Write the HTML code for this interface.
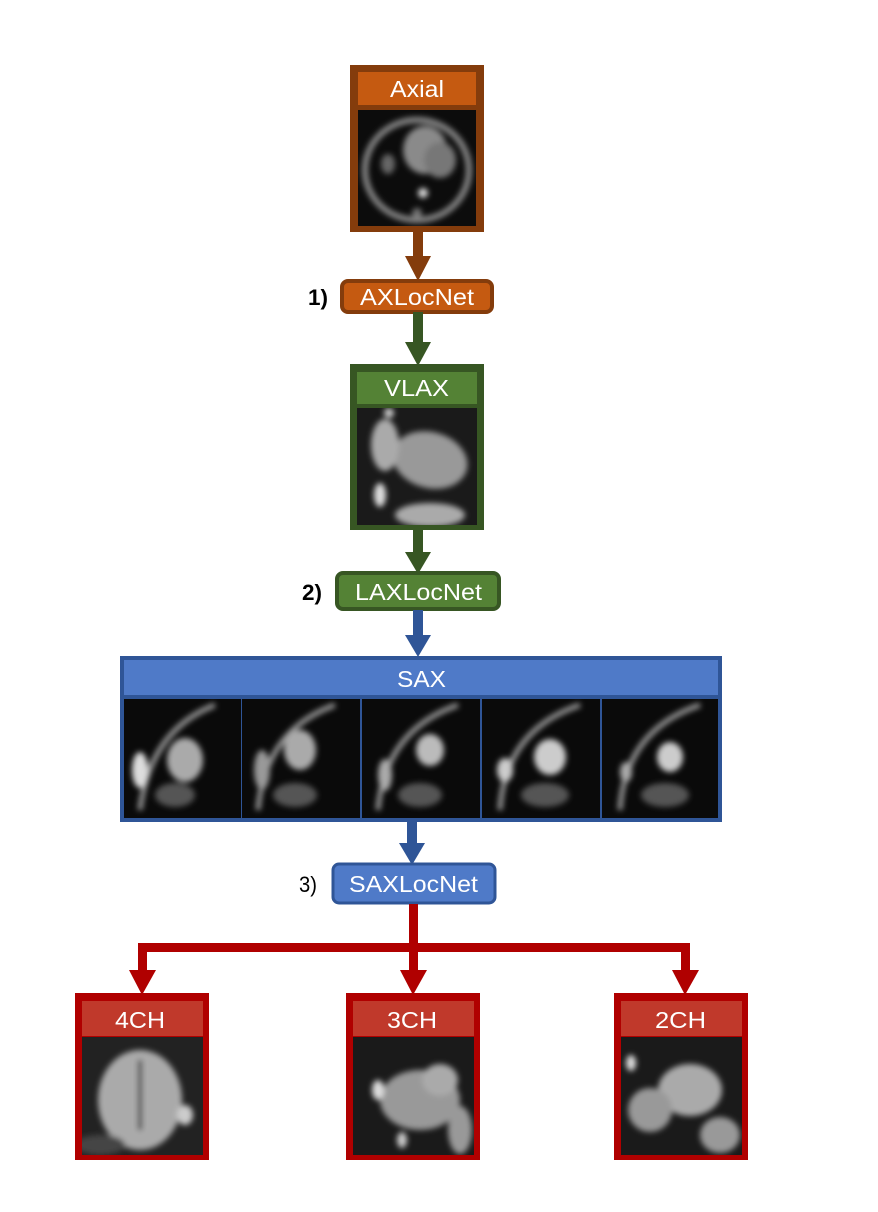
<!DOCTYPE html>
<html><head><meta charset="utf-8"><style>
html,body{margin:0;padding:0;background:#fff;}
svg{display:block;font-family:"Liberation Sans",Arial,sans-serif;}
</style></head><body>
<svg width="878" height="1212" viewBox="0 0 878 1212" xmlns="http://www.w3.org/2000/svg">
<defs>
<filter id="bl" x="-20%" y="-20%" width="140%" height="140%"><feGaussianBlur stdDeviation="3"/></filter>
<clipPath id="c1"><rect x="358" y="110" width="118" height="116"/></clipPath>
<clipPath id="c2"><rect x="357" y="408" width="120" height="117"/></clipPath>
<clipPath id="c3"><rect x="124" y="699" width="594" height="119"/></clipPath>
<clipPath id="c4"><rect x="82" y="1037" width="121" height="118"/></clipPath>
<clipPath id="c5"><rect x="353" y="1037" width="121" height="118"/></clipPath>
<clipPath id="c6"><rect x="621" y="1037" width="121" height="118"/></clipPath>
</defs>
<rect width="878" height="1212" fill="#fff"/>

<!-- Axial -->
<rect x="352.5" y="67.5" width="129" height="162" fill="#843c0c" stroke="#843c0c" stroke-width="5"/>
<rect x="358" y="72" width="118" height="33" fill="#c55a11"/>
<text x="390" y="97" font-size="23" fill="#fff" textLength="54" lengthAdjust="spacingAndGlyphs">Axial</text>
<rect x="358" y="110" width="118" height="116" fill="#0c0c0c"/>
<g filter="url(#bl)" clip-path="url(#c1)">
<ellipse cx="417" cy="170" rx="52" ry="50" fill="none" stroke="#888" stroke-width="6"/>
<ellipse cx="425" cy="150" rx="22" ry="24" fill="#8a8a8a"/>
<ellipse cx="440" cy="160" rx="16" ry="18" fill="#777"/>
<ellipse cx="388" cy="164" rx="7" ry="10" fill="#666"/>
<circle cx="423" cy="193" r="5" fill="#ddd"/>
<circle cx="417" cy="213" r="5" fill="#777"/>
</g>

<rect x="413" y="230" width="10" height="30" fill="#843c0c"/>
<polygon points="405,256 431,256 418,281" fill="#843c0c"/>

<!-- AXLocNet -->
<rect x="342" y="281" width="150" height="31" rx="6" fill="#c55a11" stroke="#843c0c" stroke-width="4"/>
<text x="360" y="305" font-size="23" fill="#fff" textLength="114" lengthAdjust="spacingAndGlyphs">AXLocNet</text>
<text x="308" y="305" font-size="22" font-weight="bold" fill="#000" textLength="20" lengthAdjust="spacingAndGlyphs">1)</text>

<rect x="413" y="312" width="10" height="32" fill="#375623"/>
<polygon points="405,342 431,342 418,366" fill="#375623"/>

<!-- VLAX -->
<rect x="352.5" y="366.5" width="129" height="161" fill="#375623" stroke="#375623" stroke-width="5"/>
<rect x="357" y="372" width="120" height="32" fill="#548235"/>
<text x="384" y="396" font-size="23" fill="#fff" textLength="65" lengthAdjust="spacingAndGlyphs">VLAX</text>
<rect x="357" y="408" width="120" height="117" fill="#1a1a1a"/>
<g filter="url(#bl)" clip-path="url(#c2)">
<ellipse cx="430" cy="460" rx="38" ry="28" fill="#999" transform="rotate(15 430 460)"/>
<ellipse cx="385" cy="445" rx="14" ry="26" fill="#aaa"/>
<ellipse cx="380" cy="495" rx="6" ry="12" fill="#ddd"/>
<ellipse cx="430" cy="515" rx="35" ry="12" fill="#aaa"/>
<circle cx="389" cy="413" r="5" fill="#ccc"/>
</g>

<rect x="413" y="528" width="10" height="27" fill="#375623"/>
<polygon points="405,552 431,552 418,574" fill="#375623"/>

<!-- LAXLocNet -->
<rect x="337" y="573" width="162" height="36" rx="6" fill="#548235" stroke="#375623" stroke-width="4"/>
<text x="355" y="600" font-size="23" fill="#fff" textLength="127" lengthAdjust="spacingAndGlyphs">LAXLocNet</text>
<text x="302" y="600" font-size="22" font-weight="bold" fill="#000" textLength="20" lengthAdjust="spacingAndGlyphs">2)</text>

<rect x="413" y="610" width="10" height="28" fill="#2f5597"/>
<polygon points="405,635 431,635 418,657" fill="#2f5597"/>

<!-- SAX -->
<rect x="121.5" y="657.5" width="599" height="163" fill="#2f5597" stroke="#2f5597" stroke-width="3"/>
<rect x="124" y="660" width="594" height="35" fill="#4f7ac8"/>
<text x="397" y="687" font-size="23" fill="#fff" textLength="49" lengthAdjust="spacingAndGlyphs">SAX</text>
<g>
<rect x="124" y="699" width="117" height="119" fill="#0a0a0a"/>
<rect x="242" y="699" width="118" height="119" fill="#0a0a0a"/>
<rect x="362" y="699" width="118" height="119" fill="#0a0a0a"/>
<rect x="482" y="699" width="118" height="119" fill="#0a0a0a"/>
<rect x="602" y="699" width="116" height="119" fill="#0a0a0a"/>
</g>
<g filter="url(#bl)" clip-path="url(#c3)">
<path d="M140 810 Q150 730 215 705" stroke="#999" stroke-width="5" fill="none"/>
<ellipse cx="185" cy="760" rx="18" ry="22" fill="#aaa"/>
<ellipse cx="140" cy="770" rx="8" ry="18" fill="#ddd"/>
<ellipse cx="175" cy="795" rx="20" ry="12" fill="#555"/>
<path d="M258 810 Q265 730 335 705" stroke="#999" stroke-width="5" fill="none"/>
<ellipse cx="300" cy="750" rx="16" ry="20" fill="#aaa"/>
<ellipse cx="262" cy="770" rx="8" ry="20" fill="#999"/>
<ellipse cx="295" cy="795" rx="22" ry="12" fill="#555"/>
<path d="M378 810 Q385 730 458 705" stroke="#999" stroke-width="5" fill="none"/>
<ellipse cx="430" cy="750" rx="14" ry="16" fill="#bbb"/>
<ellipse cx="385" cy="775" rx="7" ry="16" fill="#aaa"/>
<ellipse cx="420" cy="795" rx="22" ry="12" fill="#555"/>
<path d="M500 810 Q505 730 580 705" stroke="#999" stroke-width="5" fill="none"/>
<ellipse cx="550" cy="757" rx="16" ry="18" fill="#ccc"/>
<ellipse cx="505" cy="770" rx="8" ry="12" fill="#ccc"/>
<ellipse cx="545" cy="795" rx="24" ry="12" fill="#555"/>
<path d="M620 810 Q625 730 700 705" stroke="#999" stroke-width="5" fill="none"/>
<ellipse cx="670" cy="757" rx="13" ry="15" fill="#ccc"/>
<ellipse cx="626" cy="772" rx="6" ry="10" fill="#aaa"/>
<ellipse cx="665" cy="795" rx="24" ry="12" fill="#555"/>
</g>

<rect x="407" y="822" width="10" height="24" fill="#2f5597"/>
<polygon points="399,843 425,843 412,865" fill="#2f5597"/>

<!-- SAXLocNet -->
<rect x="333" y="864" width="162" height="39" rx="6" fill="#4f7ac8" stroke="#2f5597" stroke-width="3"/>
<text x="349" y="892" font-size="23" fill="#fff" textLength="129" lengthAdjust="spacingAndGlyphs">SAXLocNet</text>
<text x="299" y="892" font-size="22" fill="#000" textLength="18" lengthAdjust="spacingAndGlyphs">3)</text>

<g fill="#b00000">
<rect x="409" y="904" width="9" height="44" />
<rect x="138" y="943" width="552" height="9"/>
<rect x="138" y="943" width="9" height="30"/>
<rect x="409" y="943" width="9" height="30"/>
<rect x="681" y="943" width="9" height="30"/>
<polygon points="129,970 156,970 142,995"/>
<polygon points="400,970 427,970 413,995"/>
<polygon points="672,970 699,970 685,995"/>
</g>

<!-- 4CH -->
<rect x="78" y="996" width="128" height="161" fill="#b00000" stroke="#b00000" stroke-width="6"/>
<rect x="82" y="1001" width="121" height="35" fill="#c0392b"/>
<text x="115" y="1028" font-size="23" fill="#fff" textLength="50" lengthAdjust="spacingAndGlyphs">4CH</text>
<rect x="82" y="1037" width="121" height="118" fill="#222"/>
<g filter="url(#bl)" clip-path="url(#c4)">
<ellipse cx="140" cy="1100" rx="42" ry="50" fill="#aaa"/>
<rect x="138" y="1060" width="4" height="70" fill="#333"/>
<ellipse cx="185" cy="1115" rx="8" ry="10" fill="#ccc"/>
<ellipse cx="100" cy="1145" rx="25" ry="10" fill="#444"/>
</g>

<!-- 3CH -->
<rect x="349" y="996" width="128" height="161" fill="#b00000" stroke="#b00000" stroke-width="6"/>
<rect x="353" y="1001" width="121" height="35" fill="#c0392b"/>
<text x="387" y="1028" font-size="23" fill="#fff" textLength="50" lengthAdjust="spacingAndGlyphs">3CH</text>
<rect x="353" y="1037" width="121" height="118" fill="#1a1a1a"/>
<g filter="url(#bl)" clip-path="url(#c5)">
<ellipse cx="420" cy="1100" rx="40" ry="30" fill="#999"/>
<ellipse cx="440" cy="1080" rx="18" ry="16" fill="#aaa"/>
<ellipse cx="378" cy="1090" rx="6" ry="10" fill="#ddd"/>
<ellipse cx="402" cy="1140" rx="5" ry="8" fill="#ccc"/>
<ellipse cx="460" cy="1130" rx="12" ry="24" fill="#999"/>
</g>

<!-- 2CH -->
<rect x="617" y="996" width="128" height="161" fill="#b00000" stroke="#b00000" stroke-width="6"/>
<rect x="621" y="1001" width="121" height="35" fill="#c0392b"/>
<text x="655" y="1028" font-size="23" fill="#fff" textLength="51" lengthAdjust="spacingAndGlyphs">2CH</text>
<rect x="621" y="1037" width="121" height="118" fill="#1a1a1a"/>
<g filter="url(#bl)" clip-path="url(#c6)">
<ellipse cx="690" cy="1090" rx="32" ry="26" fill="#aaa"/>
<ellipse cx="650" cy="1110" rx="22" ry="22" fill="#999"/>
<ellipse cx="720" cy="1135" rx="20" ry="18" fill="#999"/>
<ellipse cx="631" cy="1063" rx="5" ry="8" fill="#ddd"/>
</g>
</svg>
</body></html>
